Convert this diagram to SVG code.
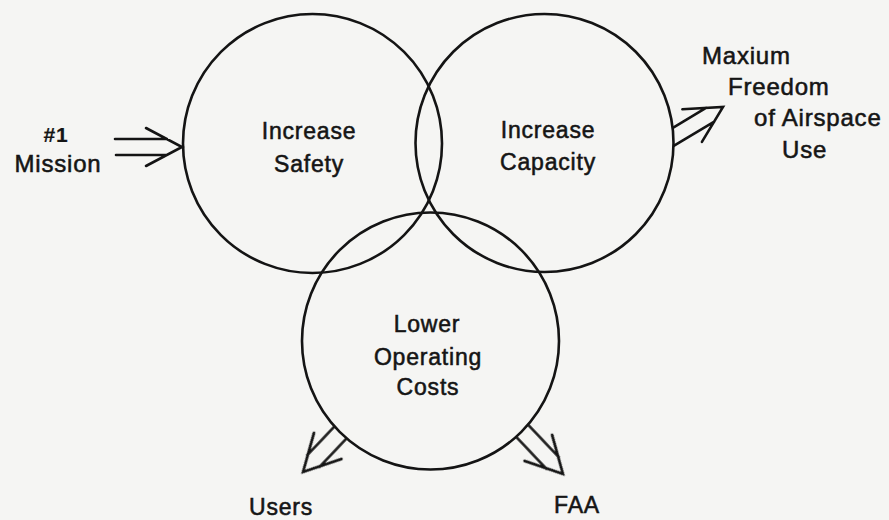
<svg xmlns="http://www.w3.org/2000/svg" width="889" height="520" viewBox="0 0 889 520">
  <defs>
    <style>
      .ring { fill: none; stroke: #141414; stroke-width: 2.6; }
      .arr { fill: none; stroke: #141414; stroke-width: 2.6; stroke-linecap: round; stroke-linejoin: miter; }
      .t { font-family: "Liberation Sans", Arial, sans-serif; font-size: 23px; fill: #151515; letter-spacing: 0.8px; text-anchor: middle; stroke: #151515; stroke-width: 0.55; }
      .ts { text-anchor: start; font-size: 24px; }
      .b { font-weight: bold; font-size: 21px; stroke-width: 0.2; }
    </style>
    <mask id="outCosts" maskUnits="userSpaceOnUse" x="0" y="0" width="889" height="520">
      <rect x="0" y="0" width="889" height="520" fill="#fff"/>
      <circle cx="430.5" cy="341" r="129" fill="#000"/>
    </mask>
    <mask id="outCap" maskUnits="userSpaceOnUse" x="0" y="0" width="889" height="520">
      <rect x="0" y="0" width="889" height="520" fill="#fff"/>
      <circle cx="544.5" cy="143" r="129" fill="#000"/>
    </mask>
  </defs>
  <rect x="0" y="0" width="889" height="520" fill="#f5f5f3"/>

  <g id="n-mission">
    <text class="t b" x="56" y="142">#1</text>
    <text class="t" x="58" y="172" style="font-size:24px">Mission</text>
  </g>

  <g id="n-safety">
    <circle class="ring" cx="312.5" cy="143.5" r="129.5"/>
    <text class="t" x="309" y="139">Increase</text>
    <text class="t" x="309" y="172">Safety</text>
  </g>

  <g id="n-capacity">
    <circle class="ring" cx="544.5" cy="143" r="129"/>
    <text class="t" x="548" y="138">Increase</text>
    <text class="t" x="548" y="170">Capacity</text>
  </g>

  <g id="n-costs">
    <circle class="ring" cx="430.5" cy="341" r="128.5"/>
    <text class="t" x="427" y="332">Lower</text>
    <text class="t" x="428" y="365">Operating</text>
    <text class="t" x="428" y="395">Costs</text>
  </g>

  <g id="n-freedom">
    <text class="t ts" x="702" y="64">Maxium</text>
    <text class="t ts" x="728" y="95">Freedom</text>
    <text class="t ts" x="754" y="126">of Airspace</text>
    <text class="t ts" x="782" y="158">Use</text>
  </g>

  <g id="n-users">
    <text class="t" x="281" y="515">Users</text>
  </g>

  <g id="n-faa">
    <text class="t" x="577" y="513">FAA</text>
  </g>

  <g id="connectors">
    <path class="arr" transform="translate(182,147)" d="M-67,-8 H-15 M-66,8 H-15 M-36,-19 L0,0 L-36,19"/>
    <g mask="url(#outCap)">
      <path class="arr" transform="translate(723,107) rotate(-31)" d="M-75,-8 H-15 M-75,8 H-15 M-36,-19 L0,0 L-36,19"/>
    </g>
    <g mask="url(#outCosts)">
      <path class="arr" transform="translate(303,472) rotate(133.5)" d="M-75,-8.5 H-15 M-75,8.5 H-15 M-36,-19 L0,0 L-36,19"/>
      <path class="arr" transform="translate(563,474) rotate(46.6)" d="M-75,-8.5 H-15 M-75,8.5 H-15 M-36,-19 L0,0 L-36,19"/>
    </g>
  </g>
</svg>
